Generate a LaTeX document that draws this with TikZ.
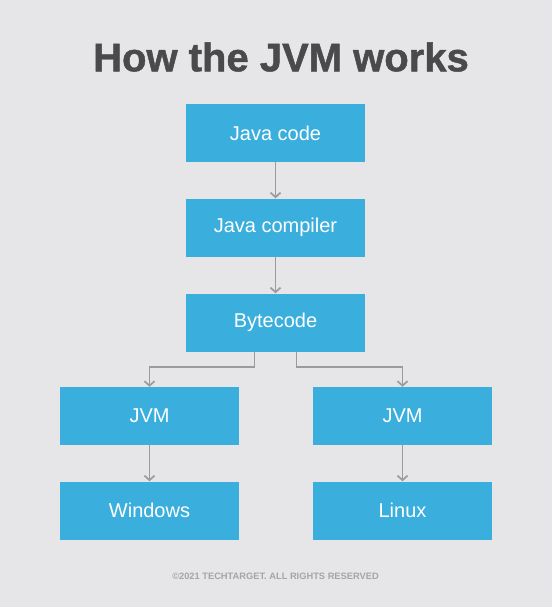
\documentclass[tikz,border=0pt]{standalone}
\usepackage{fontspec}
\setmainfont{Liberation Sans}
\newfontfamily\heavyfont[FakeBold=1.2]{Liberation Sans Bold}
\usetikzlibrary{arrows.meta,positioning}
\definecolor{bggray}{RGB}{230,230,232}
\definecolor{boxblue}{RGB}{58,174,220}
\definecolor{titlegray}{RGB}{74,74,77}
\definecolor{arrowgray}{RGB}{155,155,158}
\definecolor{notegray}{RGB}{165,165,168}

\begin{document}
\begin{tikzpicture}[x=1pt, y=-1pt,
        box/.style = {fill=boxblue, text=white, minimum width=179pt, minimum height=58pt, inner sep=0pt, font=\fontsize{20}{24}\selectfont},
        link/.style = {draw=arrowgray, line width=1.7pt, -{Straight Barb[length=4.5pt,width=10pt]}}]
    % background and page size
    \fill[bggray] (0,0) rectangle (552,607);
    \useasboundingbox (0,0) rectangle (552,607);
    \node[text=titlegray, font=\fontsize{40}{48}\heavyfont] (title) at (281,57) {How the JVM works};
    % main column
    \node[box] (code) at (275.5,133) {Java code};
    \node[box] (compiler) at (275.5,227.5) {Java compiler};
    \node[box] (bytecode) at (275.5,322.5) {Bytecode};
    % two platforms
    \node[box] (jvmL) at (149.5,416) {JVM};
    \node[box] (jvmR) at (402.5,416) {JVM};
    \node[box] (win) at (149.5,510.5) {Windows};
    \node[box] (linux) at (402.5,510.5) {Linux};
    \node[text=notegray, font=\fontsize{9.3}{11}\selectfont\bfseries] (note) at (275.5,576) {\textcopyright2021 TECHTARGET. ALL RIGHTS RESERVED};
    \draw[link] (code) -- (compiler);
    \draw[link] (compiler) -- (bytecode);
    \draw[link] ([xshift=-21pt]bytecode.south) -- ++(0,15) -| (jvmL.north);
    \draw[link] ([xshift=21pt]bytecode.south) -- ++(0,15) -| (jvmR.north);
    \draw[link] (jvmL) -- (win);
    \draw[link] (jvmR) -- (linux);
\end{tikzpicture}
\end{document}
